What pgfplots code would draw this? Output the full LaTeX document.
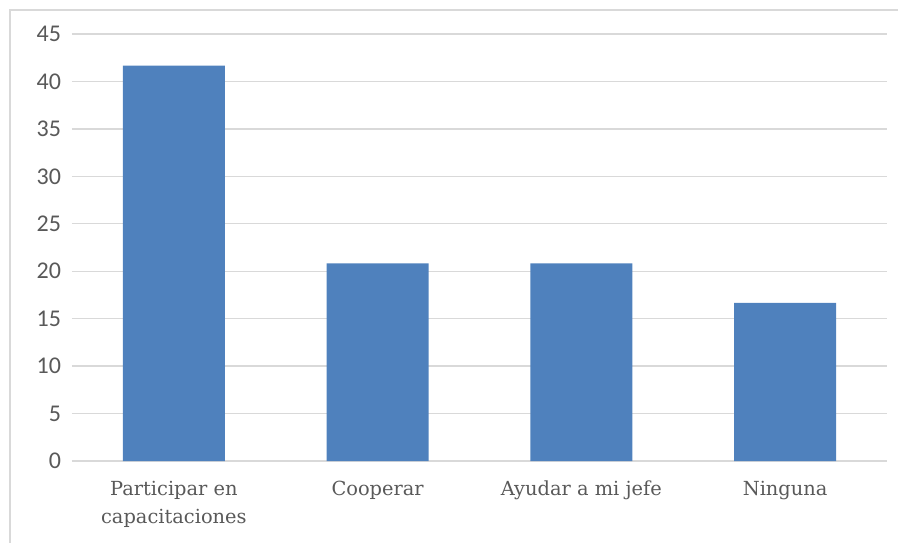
\documentclass[border=0pt]{standalone}
\usepackage{pgfplots}
\pgfplotsset{compat=1.18}
\usepackage{fontspec}
\setmainfont{DejaVu Serif}
\newfontfamily\tickfont{Carlito}
\definecolor{barblue}{HTML}{4F81BD}
\definecolor{gridgray}{HTML}{D9D9D9}
\definecolor{txtgray}{HTML}{595959}
\begin{document}
\begin{tikzpicture}
\useasboundingbox (-36pt,-40.5pt) rectangle (413pt,230.5pt);
\draw[gridgray, line width=0.6pt] (-31pt,-41pt) -- (-31pt,225.5pt) -- (414pt,225.5pt);
\begin{axis}[
  at={(0,0)}, anchor=south west,
  scale only axis,
  width=407.5pt, height=213.5pt,
  xmin=-0.5, xmax=3.5,
  ymin=0, ymax=45,
  ytick={0,5,...,45},
  xtick={0,1,2,3},
  xticklabels={{Participar en\\capacitaciones},{Cooperar},{Ayudar a mi jefe},{Ninguna}},
  xticklabel style={align=center, font=\fontsize{9.7}{14}\selectfont, text=txtgray, yshift=-6.5pt},
  yticklabel style={font=\tickfont\fontsize{12}{12}\selectfont, text=txtgray, xshift=-2pt},
  /pgf/number format/assume math mode=true,
  axis line style={draw=none},
  major tick length=0pt,
  ymajorgrids,
  grid style={gridgray, line width=0.7pt},
  ybar, bar width=0.5,
]
\addplot[fill=barblue, draw=none] coordinates {(0,41.67) (1,20.83) (2,20.83) (3,16.67)};
\end{axis}
\end{tikzpicture}
\end{document}
